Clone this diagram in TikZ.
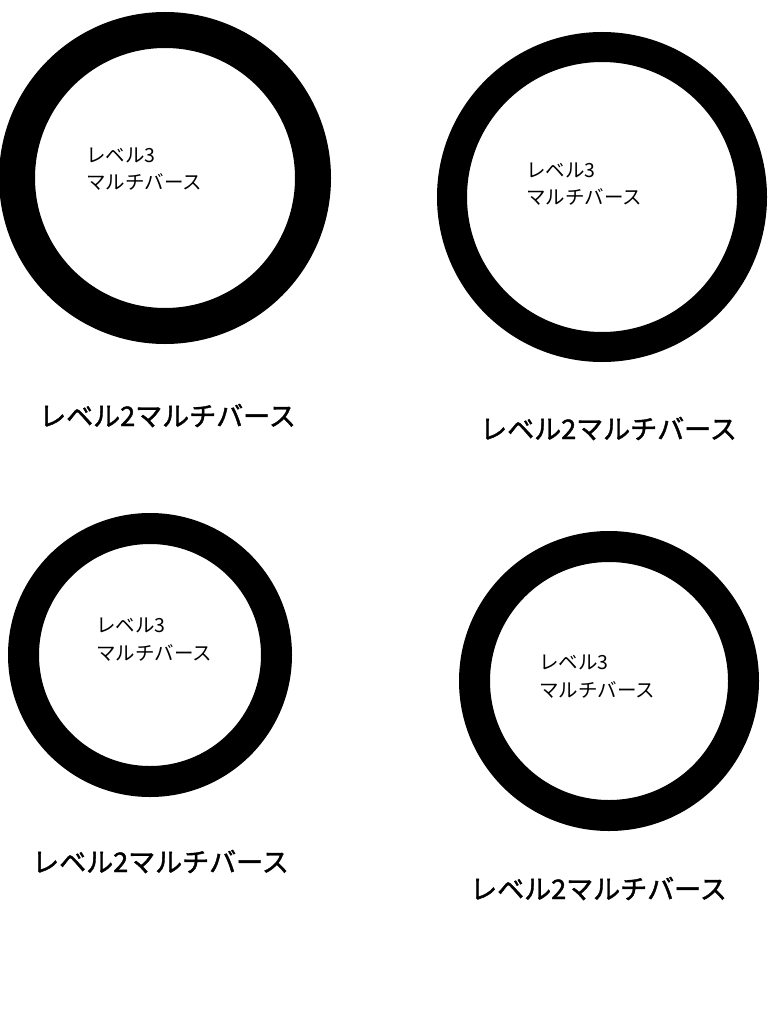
\documentclass[tikz,border=0pt]{standalone}
\usepackage{fontspec}
\setmainfont{Noto Sans CJK JP}
\newfontfamily\jpbold{Noto Sans CJK JP}[FakeBold=1.5]
\begin{document}
\begin{tikzpicture}[x=1pt,y=-1pt,
  ring/.style={draw=black,line width=#1,fill=none},
  inner/.style={anchor=base west,inner sep=0pt,align=left,font=\fontsize{19.5pt}{27.5pt}\selectfont},
  label/.style={anchor=base west,inner sep=0pt,font=\fontsize{27pt}{30pt}\selectfont\jpbold}]
\useasboundingbox (0,0) rectangle (768,1024);
\fill[white] (0,0) rectangle (768,1024);
% rings
\draw[ring=36pt] (165,178) circle (148);
\draw[ring=30pt] (602,197) circle (150);
\draw[ring=31pt] (150,655) circle (126.5);
\draw[ring=31pt] (609,681) circle (134.5);
% inner texts (base = baseline of last line)
\node[inner] (t1) at (86,190) {レベル3\\マルチバース};
\node[inner] (t2) at (526,205) {レベル3\\マルチバース};
\node[inner] (t3) at (96,660) {レベル3\\マルチバース};
\node[inner] (t4) at (539,697) {レベル3\\マルチバース};
% labels
\node[label] (l1) at (39,426) {レベル2マルチバース};
\node[label] (l2) at (480,439) {レベル2マルチバース};
\node[label] (l3) at (32,872) {レベル2マルチバース};
\node[label] (l4) at (470,899) {レベル2マルチバース};
\end{tikzpicture}
\end{document}
